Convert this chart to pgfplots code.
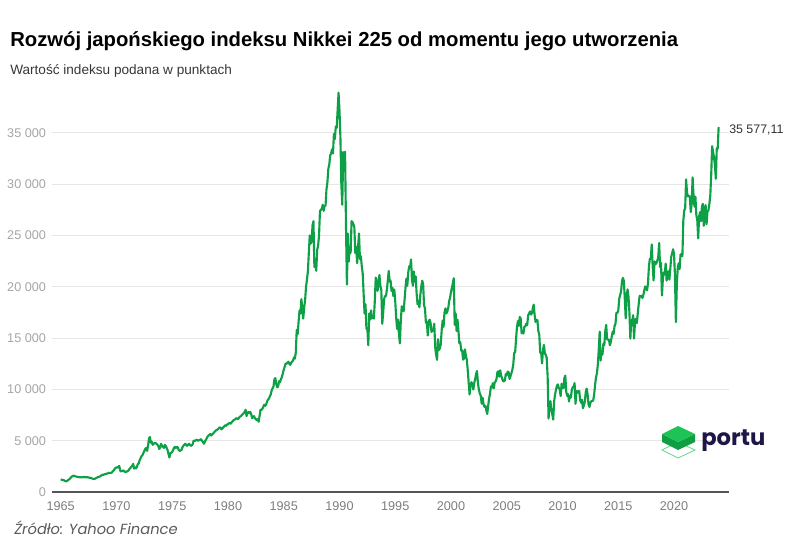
\documentclass[border=0pt]{standalone}
\usepackage{fontspec}
\setmainfont{Liberation Sans}
\newfontfamily\poppins{Poppins}
\usepackage{pgfplots}
\pgfplotsset{compat=1.18}
\usepackage{pgfplotstable}

\definecolor{nk}{RGB}{13,160,70}
\definecolor{gridc}{RGB}{230,230,230}
\definecolor{ylab}{RGB}{165,165,165}
\definecolor{xlab}{RGB}{125,125,125}
\definecolor{axc}{RGB}{85,85,85}
\definecolor{navy}{RGB}{30,22,70}
\definecolor{lg}{RGB}{29,196,85}
\definecolor{dg}{RGB}{16,158,66}

% monthly values, Jan 1965 ... Jan 2024
\pgfplotstableread[row sep=\\]{
y\\
1230\\1200\\1150\\1180\\1100\\1080\\1030\\1090\\1180\\1220\\1300\\1417\\
1500\\1560\\1590\\1550\\1520\\1500\\1470\\1460\\1440\\1450\\1420\\1430\\
1460\\1470\\1440\\1430\\1450\\1440\\1420\\1390\\1380\\1360\\1300\\1283\\
1270\\1300\\1350\\1400\\1450\\1480\\1500\\1560\\1620\\1700\\1680\\1714\\
1750\\1780\\1790\\1830\\1870\\1850\\1860\\1900\\2010\\2100\\2230\\2358\\
2400\\2380\\2450\\2534\\2100\\1990\\2050\\2100\\2060\\1960\\1950\\1987\\
2040\\2100\\2250\\2350\\2450\\2550\\2740\\2280\\2400\\2300\\2450\\2714\\
2800\\3100\\3300\\3500\\3600\\3800\\4000\\4200\\4300\\4000\\4500\\5208\\
5359\\4800\\4900\\4600\\4700\\4750\\4800\\4700\\4600\\4500\\4200\\4306\\
4700\\4500\\4400\\4300\\4600\\4500\\4300\\4100\\3700\\3355\\3800\\3817\\
3900\\4100\\4300\\4400\\4300\\4400\\4350\\4100\\4000\\4050\\4100\\4359\\
4500\\4600\\4700\\4600\\4500\\4600\\4700\\4600\\4500\\4550\\4650\\4990\\
5000\\5000\\5100\\5050\\5000\\5050\\5100\\5150\\5000\\4900\\4700\\4865\\
5050\\5200\\5400\\5500\\5550\\5650\\5500\\5600\\5700\\5800\\5900\\6001\\
6050\\6100\\6200\\6300\\6250\\6100\\6200\\6300\\6400\\6500\\6450\\6569\\
6600\\6700\\6700\\6650\\6800\\6900\\7000\\7050\\7100\\7200\\7150\\7116\\
7250\\7350\\7400\\7500\\7600\\7700\\7800\\8019\\7400\\7700\\7800\\7681\\
7800\\7600\\7200\\7300\\7400\\7200\\7100\\7000\\7100\\6850\\7400\\8016\\
8000\\8100\\8300\\8500\\8400\\8500\\8800\\9000\\9100\\9300\\9500\\9893\\
10100\\10300\\11000\\11100\\10500\\10200\\10300\\10800\\10700\\11000\\11200\\11542\\
11900\\12200\\12500\\12500\\12600\\12700\\12500\\12400\\12600\\12700\\12800\\13113\\
13000\\13600\\15800\\15400\\16600\\17700\\17400\\18800\\17800\\16900\\18000\\18701\\
20000\\20700\\21500\\23300\\25000\\24200\\24400\\26000\\26400\\21910\\22700\\21564\\
23600\\24000\\25000\\27400\\27500\\27600\\28000\\27400\\27900\\27900\\29500\\30159\\
31500\\31900\\32800\\33000\\33400\\33000\\34900\\34400\\35600\\35500\\37200\\38916\\
37189\\34591\\29980\\28002\\33130\\31940\\33172\\25978\\20222\\25194\\22455\\23849\\
23300\\26400\\26300\\26100\\25800\\23300\\23900\\22300\\23900\\25200\\22700\\22984\\
22000\\21300\\19300\\17400\\18300\\15900\\15900\\14309\\17400\\16800\\17700\\16925\\
17000\\16900\\18600\\20900\\20600\\19600\\20400\\21148\\20100\\19700\\16400\\17417\\
18800\\19100\\19100\\19700\\20600\\21552\\20500\\20600\\19600\\19900\\19100\\19723\\
18600\\17000\\15900\\16800\\15400\\14485\\16700\\18100\\18000\\17600\\18700\\19868\\
20800\\20100\\21400\\22000\\21900\\22666\\20700\\20100\\21500\\20500\\21000\\19361\\
18300\\18600\\18000\\19200\\20000\\20600\\20300\\18200\\17900\\16500\\16600\\15259\\
16600\\16800\\16500\\15600\\15700\\15800\\16400\\14100\\13400\\12879\\14900\\13842\\
14000\\14400\\15800\\16700\\16100\\17500\\17900\\17400\\17600\\17900\\18600\\18934\\
19500\\19900\\20337\\20833\\16300\\17400\\15700\\16800\\15700\\14500\\14600\\13785\\
13800\\12900\\13000\\13900\\13300\\12900\\11900\\10700\\9504\\10400\\10700\\10542\\
9990\\10600\\11000\\11500\\11800\\10600\\10000\\9600\\9400\\8600\\9200\\8578\\
8300\\8400\\7970\\7607\\8400\\9100\\9600\\10300\\10200\\10600\\10100\\10676\\
10780\\11040\\11700\\11760\\11240\\11860\\11330\\11080\\10820\\10770\\10900\\11488\\
11390\\11740\\11670\\11010\\11280\\11580\\11900\\12410\\13570\\13610\\14870\\16111\\
16650\\16200\\17060\\16900\\15470\\15500\\15460\\16140\\16130\\16400\\16270\\17225\\
17380\\17600\\17290\\17400\\17880\\18261\\17250\\16570\\16790\\16740\\15680\\15307\\
13590\\13600\\12530\\13850\\14340\\13480\\13380\\13070\\11260\\7162\\8510\\8859\\
7990\\7570\\7054\\8830\\9520\\9960\\10360\\10490\\10130\\10030\\9350\\10546\\
10200\\10130\\11090\\11339\\9770\\9380\\9540\\8820\\9370\\9200\\9940\\10228\\
10240\\10620\\8605\\9850\\9690\\9820\\9830\\8950\\8700\\8990\\8160\\8455\\
8800\\9720\\10080\\9520\\8540\\8295\\8700\\8840\\8870\\8930\\9450\\10395\\
11140\\11560\\12400\\13860\\15627\\12800\\13670\\13390\\14460\\14330\\15660\\16291\\
14910\\14840\\14830\\14300\\14630\\15160\\15620\\15420\\16170\\16410\\17460\\17451\\
17670\\18800\\19210\\19520\\20560\\20868\\20590\\18890\\16930\\19080\\19750\\19034\\
17520\\14952\\16760\\16670\\17230\\14952\\16570\\16890\\16450\\17430\\18310\\19114\\
19040\\19120\\18910\\19200\\19650\\20030\\19930\\19650\\20360\\22010\\22720\\22765\\
24124\\22070\\20617\\22470\\22200\\22300\\22550\\22870\\24270\\21920\\22350\\19155\\
20770\\21390\\21210\\22260\\20600\\21280\\21520\\20700\\21760\\22930\\23290\\23657\\
23200\\21140\\16552\\20190\\21880\\22290\\21710\\23140\\23190\\22980\\26430\\27444\\
27660\\30468\\29180\\28810\\28860\\28790\\27280\\28090\\30670\\28890\\27820\\28792\\
27000\\26530\\24717\\26850\\27280\\26390\\27800\\28090\\25940\\27590\\27970\\26095\\
27330\\27450\\28040\\28860\\30890\\33706\\33170\\32620\\31860\\30526\\33490\\33464\\
35577.11\\
}\nikkei

\begin{document}
\begin{tikzpicture}
\path[use as bounding box] (0,0) rectangle (600pt,412.5pt);
\begin{axis}[
  at={(39pt,43.5pt)}, anchor=south west,
  scale only axis, width=507.75pt, height=307.8pt,
  xmin=1964.22, xmax=2024.93, ymin=0, ymax=40000,
  clip=false,
  axis x line*=bottom, axis y line*=left,
  x axis line style={axc, line width=1pt, -},
  y axis line style={draw=none},
  major tick length=0pt,
  ymajorgrids, major grid style={gridc, line width=0.8pt},
  xtick={1965,1970,...,2020},
  ytick={0,5000,...,35000},
  scaled y ticks=false,
  /pgf/number format/assume math mode=true,
  tick label style={font=\fontsize{9.5}{11}\selectfont},
  yticklabel style={ylab, /pgf/number format/1000 sep={\ }, xshift=-1pt},
  xticklabel style={xlab, /pgf/number format/1000 sep={}, yshift=-4pt},
]
\addplot[nk, line width=1.6pt, line join=round] table[x expr=1965+\coordindex/12, y=y]{\nikkei};
\end{axis}
\begin{scope}[x=0.75pt, y=-0.75pt, shift={(0pt,412.5pt)}]
  \node[anchor=base west, inner sep=0, font=\bfseries\fontsize{15.2}{18}\selectfont] at (10,47)
    {Rozwój japońskiego indeksu Nikkei 225 od momentu jego utworzenia};
  \node[anchor=base west, inner sep=0, text={rgb,255:red,55;green,55;blue,55}, font=\fontsize{10.2}{12}\selectfont] at (10,75)
    {Wartość indeksu podana w punktach};
  \node[anchor=base west, inner sep=0, text={rgb,255:red,50;green,50;blue,50}, font=\fontsize{9.3}{11}\selectfont] at (729,134)
    {35 577,11};
  \node[anchor=base west, inner sep=0, text={rgb,255:red,90;green,90;blue,90}, font=\poppins\itshape\fontsize{11}{13}\selectfont] at (14,534)
    {Źródło: Yahoo Finance};
  % logo
  \draw[lg!70, line width=0.6pt] (662,450) -- (678,442) -- (695,450) -- (678,458) -- cycle;
  \fill[dg] (662,434) -- (662,442) -- (678,450) -- (695,442) -- (695,434) -- (678,442) -- cycle;
  \fill[lg] (662,434) -- (678,426) -- (695,434) -- (678,442) -- cycle;
  \node[anchor=base west, inner sep=0, text=navy, font=\poppins\bfseries\fontsize{17}{20}\selectfont] at (701,446) {portu};
\end{scope}
\end{tikzpicture}
\end{document}
